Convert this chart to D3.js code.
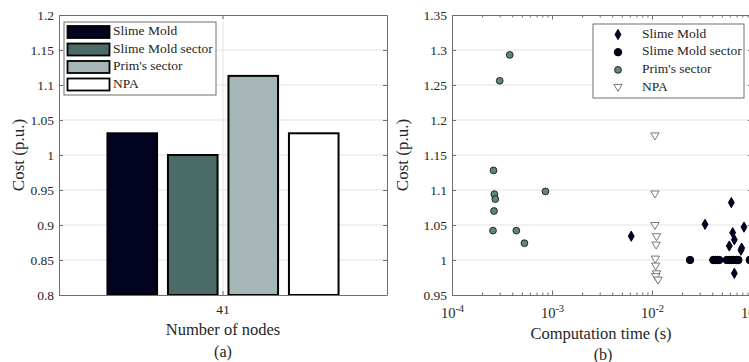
<!DOCTYPE html>
<html>
<head>
<meta charset="utf-8">
<script src="https://cdn.jsdelivr.net/npm/d3@7"></script>
<style>
  body { margin: 0; background: #fff; }
  svg text { font-family: "Liberation Serif", "Times New Roman", serif; fill: #262626; }
</style>
</head>
<body>
<div id="chart"></div>
<script>
// ---- data ----
const seriesNames = ["Slime Mold", "Slime Mold sector", "Prim's sector", "NPA"];
const seriesColors = ["#00021f", "#4b6b69", "#a6b5b5", "#ffffff"];
const nodeCategories = ["41"];
const barCost = [1.031, 1.0, 1.113, 1.031];

const leftTicks = [0.8, 0.85, 0.9, 0.95, 1, 1.05, 1.1, 1.15, 1.2];
const rightTicks = [0.95, 1, 1.05, 1.1, 1.15, 1.2, 1.25, 1.3, 1.35];
const timeTicks = [1e-4, 1e-3, 1e-2, 1e-1];

// scatter: computation time (s) and cost (p.u.)
const slimeTime = [0.0062, 0.0339, 0.0621, 0.0832, 0.0641, 0.0666, 0.0593, 0.0789, 0.0775, 0.0666];
const slimeCost = [1.034, 1.051, 1.082, 1.047, 1.039, 1.029, 1.020, 1.017, 1.014, 0.981];

const sectorTime = [0.024, 0.041, 0.043, 0.045, 0.047, 0.056, 0.059, 0.062, 0.066, 0.070, 0.073, 0.095];
const sectorCost = [1, 1, 1, 1, 1, 1, 1, 1, 1, 1, 1, 1];

const primTime = [3.78e-4, 3.0e-4, 2.6e-4, 2.65e-4, 2.71e-4, 2.63e-4, 2.57e-4, 4.4e-4, 8.6e-4, 5.3e-4];
const primCost = [1.293, 1.256, 1.128, 1.094, 1.087, 1.070, 1.042, 1.042, 1.098, 1.024];

const npaTime = [0.0107, 0.0107, 0.0107, 0.0111, 0.0110, 0.0108, 0.0109, 0.0111, 0.0109, 0.0115];
const npaCost = [1.177, 1.094, 1.049, 1.033, 1.021, 1.001, 0.991, 0.980, 0.976, 0.971];

const W = 749, H = 362;
const axisColor = "#6f6f6f";
const gridColor = "#e3e3e3";

const svg = d3.select("#chart").append("svg")
  .attr("width", W).attr("height", H);

const fmt = v => String(+v.toFixed(2));

// ================= left: bar chart =================
const L = { left: 59, right: 387, top: 15, bottom: 295 };

const y0 = d3.scaleLinear().domain([0.8, 1.2]).range([L.bottom, L.top]);
const x0 = d3.scaleBand().domain(nodeCategories).range([L.left, L.right]).paddingOuter(0.1777).paddingInner(0);
const x1 = d3.scaleBand().domain(seriesNames).range([0, x0.bandwidth()]).paddingInner(0.18).paddingOuter(0.09);

const gl = svg.append("g");

// grid
gl.selectAll(".hgrid").data(leftTicks.slice(1, -1)).enter().append("line")
  .attr("x1", L.left).attr("x2", L.right)
  .attr("y1", d => y0(d)).attr("y2", d => y0(d))
  .attr("stroke", gridColor);
gl.selectAll(".vgrid").data(nodeCategories).enter().append("line")
  .attr("x1", d => x0(d) + x0.bandwidth() / 2).attr("x2", d => x0(d) + x0.bandwidth() / 2)
  .attr("y1", L.top).attr("y2", L.bottom)
  .attr("stroke", gridColor);

// bars
gl.selectAll(".bar").data(barCost).enter().append("rect")
  .attr("x", (d, i) => x0("41") + x1(seriesNames[i]))
  .attr("y", d => y0(d))
  .attr("width", x1.bandwidth())
  .attr("height", d => y0(0.8) - y0(d))
  .attr("fill", (d, i) => seriesColors[i])
  .attr("stroke", "#000")
  .attr("stroke-width", 2);

// axes
function styleAxis(g) {
  g.select(".domain").attr("stroke", axisColor);
  g.selectAll(".tick line").attr("stroke", axisColor);
  g.selectAll(".tick text").attr("fill", "#262626").style("font-size", "13.5px")
    .style("font-family", "Liberation Serif, serif");
}

gl.append("g").attr("transform", `translate(${L.left},0)`)
  .call(d3.axisLeft(y0).tickValues(leftTicks).tickFormat(fmt).tickSize(-4).tickPadding(5).tickSizeOuter(0))
  .call(styleAxis);
gl.append("g").attr("transform", `translate(${L.right},0)`)
  .call(d3.axisRight(y0).tickValues(leftTicks).tickFormat("").tickSize(-4).tickSizeOuter(0))
  .call(styleAxis);
gl.append("g").attr("transform", `translate(0,${L.bottom})`)
  .call(d3.axisBottom(x0).tickSize(-4).tickPadding(9).tickSizeOuter(0))
  .call(styleAxis);
gl.append("g").attr("transform", `translate(0,${L.top})`)
  .call(d3.axisTop(x0).tickFormat("").tickSize(-4).tickSizeOuter(0))
  .call(styleAxis);

gl.append("text").attr("transform", `translate(20,${(L.top + L.bottom) / 2}) rotate(-90)`)
  .attr("text-anchor", "middle").attr("dominant-baseline", "middle")
  .style("font-size", "17px").text("Cost (p.u.)");
gl.append("text").attr("x", (L.left + L.right) / 2).attr("y", 335)
  .attr("text-anchor", "middle").style("font-size", "16.5px").text("Number of nodes");
gl.append("text").attr("x", (L.left + L.right) / 2).attr("y", 357)
  .attr("text-anchor", "middle").style("font-size", "16px").text("(a)");

// legend (left)
const lg = gl.append("g").attr("transform", "translate(64,22)");
lg.append("rect").attr("width", 152).attr("height", 73)
  .attr("fill", "#fff").attr("stroke", axisColor);
seriesNames.forEach((name, i) => {
  const yy = 10 + i * 17.5;
  lg.append("rect").attr("x", 3.5).attr("y", yy - 6).attr("width", 42).attr("height", 12)
    .attr("fill", seriesColors[i]).attr("stroke", "#000").attr("stroke-width", 1.8);
  lg.append("text").attr("x", 49).attr("y", yy).attr("dominant-baseline", "middle")
    .style("font-size", "13.5px").text(name);
});

// ================= right: scatter =================
const R = { left: 452, right: 752, top: 15, bottom: 295 };

const xs = d3.scaleLog().domain([1e-4, 1e-1]).range([R.left, R.right]);
const ys = d3.scaleLinear().domain([0.95, 1.35]).range([R.bottom, R.top]);

const gr = svg.append("g");

gr.selectAll(".hgrid").data(rightTicks.slice(1, -1)).enter().append("line")
  .attr("x1", R.left).attr("x2", R.right)
  .attr("y1", d => ys(d)).attr("y2", d => ys(d))
  .attr("stroke", gridColor);

const minorTicks = [];
[1e-4, 1e-3, 1e-2].forEach(b => { for (let k = 2; k <= 9; k++) minorTicks.push(b * k); });

function logAxis(axis) {
  return axis.tickValues(minorTicks).tickFormat("").tickSize(-2.5).tickSizeOuter(0);
}

gr.append("g").attr("transform", `translate(0,${R.bottom})`)
  .call(logAxis(d3.axisBottom(xs))).call(styleAxis);
gr.append("g").attr("transform", `translate(0,${R.top})`)
  .call(logAxis(d3.axisTop(xs))).call(styleAxis);
gr.append("g").attr("transform", `translate(0,${R.top})`)
  .call(d3.axisTop(xs).tickValues(timeTicks).tickFormat("").tickSize(-4.5).tickSizeOuter(0)).call(styleAxis);

const xb = gr.append("g").attr("transform", `translate(0,${R.bottom})`)
  .call(d3.axisBottom(xs).tickValues(timeTicks).tickFormat("").tickSize(-4.5).tickSizeOuter(0))
  .call(styleAxis);
xb.selectAll(".tick").append("text")
  .attr("y", 23).attr("text-anchor", "middle")
  .style("font-size", "14.5px")
  .each(function (d) {
    const t = d3.select(this);
    t.append("tspan").text("10");
    t.append("tspan").attr("dy", -6).style("font-size", "10.5px").text(String(Math.round(Math.log10(d))));
  });

gr.append("g").attr("transform", `translate(${R.left},0)`)
  .call(d3.axisLeft(ys).tickValues(rightTicks).tickFormat(fmt).tickSize(-4).tickPadding(5).tickSizeOuter(0))
  .call(styleAxis);
gr.append("g").attr("transform", `translate(${R.right},0)`)
  .call(d3.axisRight(ys).tickValues(rightTicks).tickFormat("").tickSize(-4).tickSizeOuter(0))
  .call(styleAxis);

gr.append("text").attr("transform", `translate(404,${(R.top + R.bottom) / 2}) rotate(-90)`)
  .attr("text-anchor", "middle").attr("dominant-baseline", "middle")
  .style("font-size", "17px").text("Cost (p.u.)");
gr.append("text").attr("x", 601).attr("y", 339)
  .attr("text-anchor", "middle").style("font-size", "16.5px").text("Computation time (s)");
gr.append("text").attr("x", 603).attr("y", 360)
  .attr("text-anchor", "middle").style("font-size", "16px").text("(b)");

// markers
const diamond = d3.symbol().type(d3.symbolDiamond).size(30);
const triDown = "M-4.2,-3.2L4.2,-3.2L0,3.8Z";

const markerStyles = [
  { draw: g => g.append("path").attr("d", diamond()).attr("fill", "#00021f").attr("stroke", "#00021f") },
  { draw: g => g.append("circle").attr("r", 3.7).attr("fill", "#00021f").attr("stroke", "#000") },
  { draw: g => g.append("circle").attr("r", 3.4).attr("fill", "#5f8583").attr("stroke", "#1a1a1a").attr("stroke-width", 0.9) },
  { draw: g => g.append("path").attr("d", triDown).attr("fill", "#fff").attr("stroke", "#6a6a6a").attr("stroke-width", 0.9) }
];

const scatterSets = [
  { t: primTime, c: primCost, m: 2 },
  { t: npaTime, c: npaCost, m: 3 },
  { t: sectorTime, c: sectorCost, m: 1 },
  { t: slimeTime, c: slimeCost, m: 0 }
];

scatterSets.forEach(s => {
  s.t.forEach((t, i) => {
    const g = gr.append("g").attr("transform", `translate(${xs(t)},${ys(s.c[i])})`);
    markerStyles[s.m].draw(g);
  });
});

// legend (right)
const rg = gr.append("g").attr("transform", "translate(593,24)");
rg.append("rect").attr("width", 151).attr("height", 74)
  .attr("fill", "#fff").attr("stroke", axisColor);
seriesNames.forEach((name, i) => {
  const yy = 10.5 + i * 17.7;
  const g = rg.append("g").attr("transform", `translate(25,${yy})`);
  markerStyles[i].draw(g);
  rg.append("text").attr("x", 49).attr("y", yy).attr("dominant-baseline", "middle")
    .style("font-size", "13.5px").text(name);
});
</script>
</body>
</html>
